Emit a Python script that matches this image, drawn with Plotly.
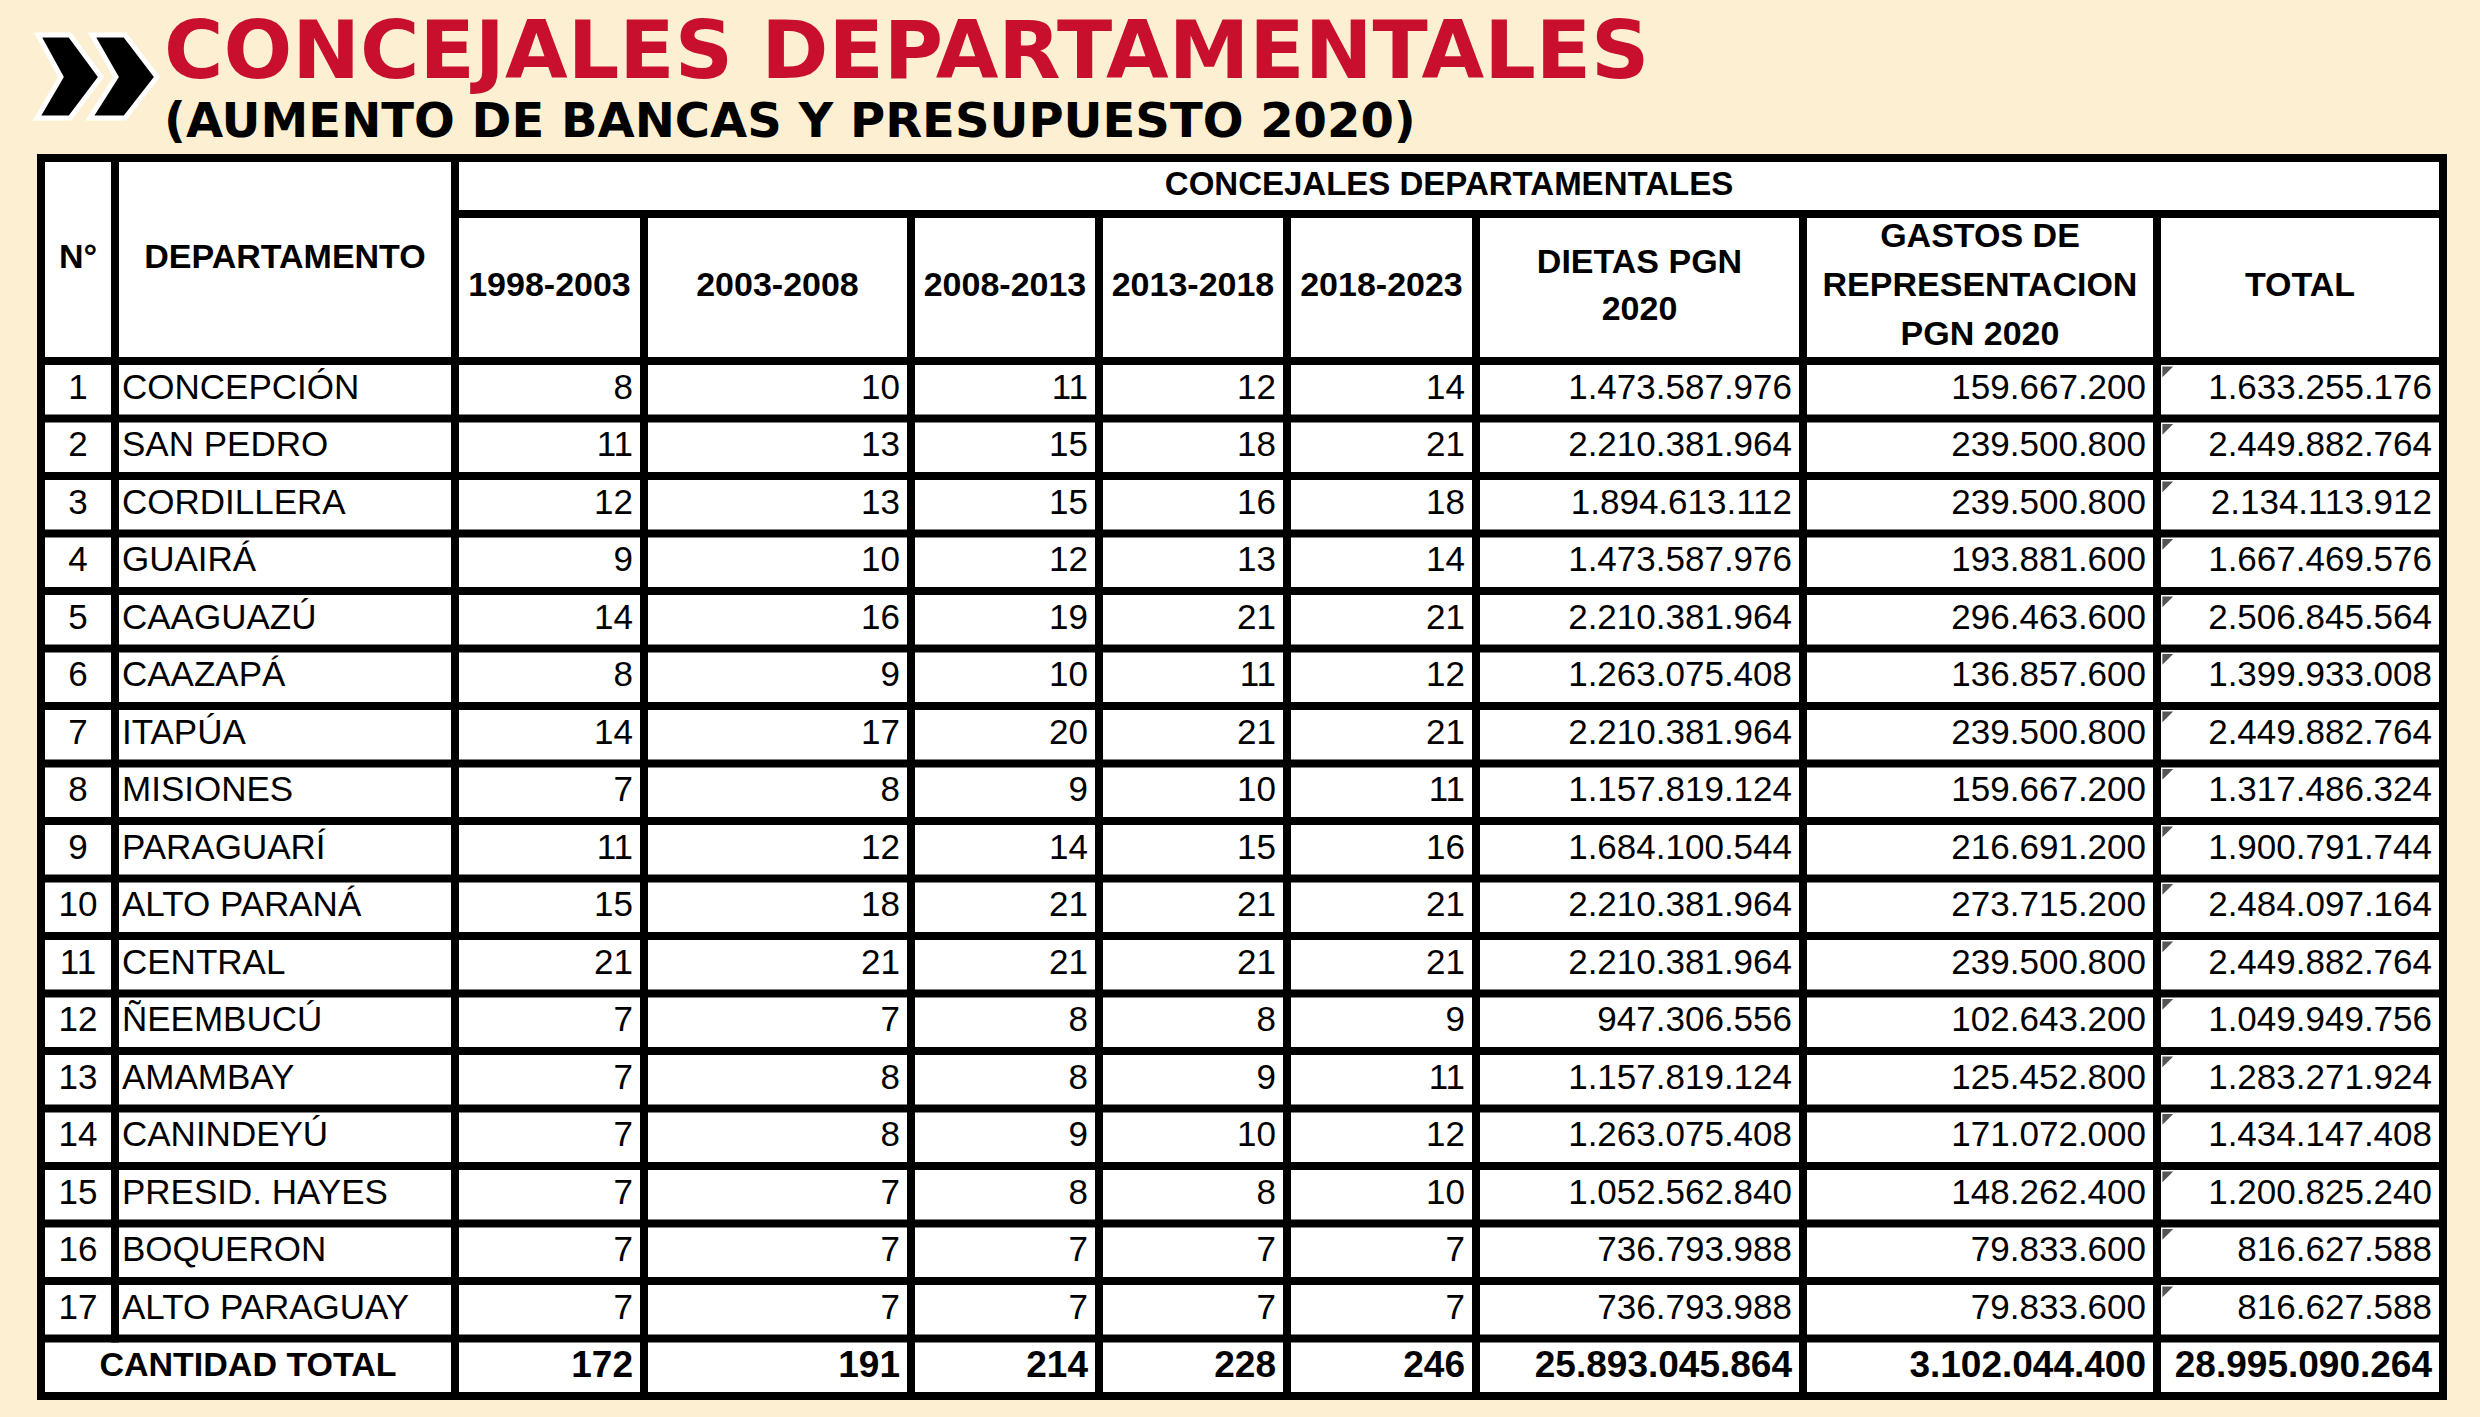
import plotly.graph_objects as go

# ---------------- data ----------------
departamentos = ["CONCEPCIÓN", "SAN PEDRO", "CORDILLERA", "GUAIRÁ", "CAAGUAZÚ", "CAAZAPÁ",
                 "ITAPÚA", "MISIONES", "PARAGUARÍ", "ALTO PARANÁ", "CENTRAL", "ÑEEMBUCÚ",
                 "AMAMBAY", "CANINDEYÚ", "PRESID. HAYES", "BOQUERON", "ALTO PARAGUAY"]
p1998_2003 = [8, 11, 12, 9, 14, 8, 14, 7, 11, 15, 21, 7, 7, 7, 7, 7, 7]
p2003_2008 = [10, 13, 13, 10, 16, 9, 17, 8, 12, 18, 21, 7, 8, 8, 7, 7, 7]
p2008_2013 = [11, 15, 15, 12, 19, 10, 20, 9, 14, 21, 21, 8, 8, 9, 8, 7, 7]
p2013_2018 = [12, 18, 16, 13, 21, 11, 21, 10, 15, 21, 21, 8, 9, 10, 8, 7, 7]
p2018_2023 = [14, 21, 18, 14, 21, 12, 21, 11, 16, 21, 21, 9, 11, 12, 10, 7, 7]
dietas_pgn_2020 = [1473587976, 2210381964, 1894613112, 1473587976, 2210381964, 1263075408,
                   2210381964, 1157819124, 1684100544, 2210381964, 2210381964, 947306556,
                   1157819124, 1263075408, 1052562840, 736793988, 736793988]
gastos_repr_2020 = [159667200, 239500800, 239500800, 193881600, 296463600, 136857600,
                    239500800, 159667200, 216691200, 273715200, 239500800, 102643200,
                    125452800, 171072000, 148262400, 79833600, 79833600]
total_2020 = [1633255176, 2449882764, 2134113912, 1667469576, 2506845564, 1399933008,
              2449882764, 1317486324, 1900791744, 2484097164, 2449882764, 1049949756,
              1283271924, 1434147408, 1200825240, 816627588, 816627588]
cantidad_total = [172, 191, 214, 228, 246, 25893045864, 3102044400, 28995090264]

periodos = ["1998-2003", "2003-2008", "2008-2013", "2013-2018", "2018-2023"]
title = "CONCEJALES DEPARTAMENTALES"
subtitle = "(AUMENTO DE BANCAS Y PRESUPUESTO 2020)"
group_header = "CONCEJALES DEPARTAMENTALES"
header_dietas = ["DIETAS PGN", "2020"]
header_gastos = ["GASTOS DE", "REPRESENTACION", "PGN 2020"]
header_total = "TOTAL"

# ---------------- layout constants ----------------
W, H = 2480, 1417
BG = "#FDF0D2"
RED = "#C8102E"
col_edges = [41, 115, 455, 644, 911, 1099, 1287, 1476, 1803, 2157, 2443]
y_top, y_h1, y_h2 = 158, 214, 361
row_h = 57.5
n = len(departamentos)
row_edges = [y_h2 + k * row_h for k in range(n + 2)]
LW = 8
PAD = 7
FONT = "Liberation Sans, Arial, sans-serif"
chevrons = [
    [(38, 35), (70, 35), (101, 77), (70, 118), (37, 118), (61, 77)],
    [(92, 35), (125, 35), (157, 77), (125, 118), (90, 118), (116, 77)],
]


def fmt(v):
    return f"{v:,}".replace(",", ".")


def cx(i):
    return (col_edges[i] + col_edges[i + 1]) / 2


def rx(i):
    return col_edges[i + 1] - LW / 2 - PAD


def ry(r):
    return (row_edges[r] + row_edges[r + 1]) / 2


fig = go.Figure()

# ---------------- grid shapes ----------------
shapes = [dict(type="rect", xref="x", yref="y", x0=col_edges[0], x1=col_edges[-1],
               y0=y_top, y1=row_edges[-1], fillcolor="white", line_width=0, layer="below")]


def hline(y, x0, x1):
    shapes.append(dict(type="line", xref="x", yref="y", x0=x0 - LW / 2, x1=x1 + LW / 2,
                       y0=y, y1=y, line=dict(color="black", width=LW)))


def vline(x, y0, y1):
    shapes.append(dict(type="line", xref="x", yref="y", x0=x, x1=x,
                       y0=y0 - LW / 2, y1=y1 + LW / 2, line=dict(color="black", width=LW)))


hline(y_top, col_edges[0], col_edges[-1])
hline(y_h1, col_edges[2], col_edges[-1])
for y in row_edges:
    hline(y, col_edges[0], col_edges[-1])
vline(col_edges[0], y_top, row_edges[-1])
vline(col_edges[1], y_top, row_edges[-2])
vline(col_edges[2], y_top, row_edges[-1])
for x in col_edges[3:-1]:
    vline(x, y_h1, row_edges[-1])
vline(col_edges[-1], y_top, row_edges[-1])

# chevrons
for p in chevrons:
    path = "M " + " L ".join(f"{x},{y}" for x, y in p) + " Z"
    shapes.append(dict(type="path", xref="x", yref="y", path=path, fillcolor="black",
                       line=dict(color="white", width=5)))


def text_trace(xs, ys, texts, pos, size, bold=False, color="black", family=FONT):
    fig.add_trace(go.Scatter(
        x=xs, y=ys, text=texts, mode="text", textposition=pos,
        textfont=dict(family=family, size=size, color=color,
                      weight="bold" if bold else "normal"),
        hoverinfo="skip", showlegend=False))


# ---------------- headers ----------------
HS = 34
text_trace([cx(0)], [(y_top + y_h2) / 2], ["N°"], "middle center", HS, True)
text_trace([cx(1)], [(y_top + y_h2) / 2], ["DEPARTAMENTO"], "middle center", HS, True)
text_trace([(col_edges[2] + col_edges[-1]) / 2], [(y_top + y_h1) / 2 + 1], [group_header],
           "middle center", 33, True)
text_trace([cx(i) for i in range(2, 7)], [(y_h1 + y_h2) / 2] * 5, periodos,
           "middle center", HS, True)
mid2 = (y_h1 + y_h2) / 2
text_trace([cx(7)] * 2, [mid2 - 23, mid2 + 24], header_dietas, "middle center", HS, True)
text_trace([cx(8)] * 3, [mid2 - 49, mid2, mid2 + 49], header_gastos, "middle center", HS, True)
text_trace([cx(9)], [mid2], [header_total], "middle center", HS, True)

# ---------------- data rows ----------------
DS = 35
rows = list(range(n))
text_trace([cx(0)] * n, [ry(r) for r in rows], [str(r + 1) for r in rows], "middle center", DS)
text_trace([col_edges[1] + LW / 2 + 3] * n, [ry(r) for r in rows], departamentos,
           "middle right", DS)
series = [p1998_2003, p2003_2008, p2008_2013, p2013_2018, p2018_2023,
          dietas_pgn_2020, gastos_repr_2020, total_2020]
for j, s in enumerate(series):
    text_trace([rx(j + 2)] * n, [ry(r) for r in rows], [fmt(v) for v in s], "middle left", DS)

# excel-style corner marks in TOTAL column
fig.add_trace(go.Scatter(
    x=[col_edges[9] + LW / 2 + 5] * n, y=[row_edges[r] + LW / 2 + 5 for r in rows],
    mode="markers", marker=dict(symbol="triangle-nw", size=12, color="#555555", line_width=0),
    hoverinfo="skip", showlegend=False))

# ---------------- total row ----------------
tr = n
text_trace([(col_edges[0] + col_edges[2]) / 2], [ry(tr)], ["CANTIDAD TOTAL"], "middle center", 34, True)
text_trace([rx(j + 2) for j in range(8)], [ry(tr)] * 8, [fmt(v) for v in cantidad_total],
           "middle left", 37, True)

# ---------------- title ----------------
annotations = [
    dict(x=162, y=50, xref="x", yref="y", text=title, showarrow=False, xanchor="left",
         yanchor="middle", font=dict(family="DejaVu Sans", size=81, color=RED, weight="bold")),
    dict(x=162, y=120, xref="x", yref="y", text=subtitle, showarrow=False, xanchor="left",
         yanchor="middle", font=dict(family="DejaVu Sans", size=48, color="black", weight="bold")),
]

fig.update_layout(
    width=W, height=H, margin=dict(l=0, r=0, t=0, b=0),
    paper_bgcolor=BG, plot_bgcolor=BG,
    xaxis=dict(range=[0, W], visible=False, fixedrange=True),
    yaxis=dict(range=[H, 0], visible=False, fixedrange=True),
    shapes=shapes, annotations=annotations, showlegend=False,
)

fig.write_html("out.html", config={"displayModeBar": False},
               post_script="document.body.style.margin='0';"
                           "document.body.style.background='" + BG + "';"
                           "document.body.style.overflow='hidden';")
